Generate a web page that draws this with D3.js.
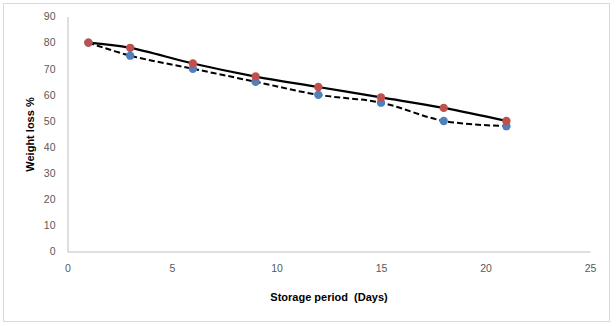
<!DOCTYPE html>
<html><head><meta charset="utf-8">
<script src="https://cdn.jsdelivr.net/npm/d3@7"></script>
<style>body{margin:0;background:#fff}svg{display:block}</style>
</head><body>
<script>
const days = [1, 3, 6, 9, 12, 15, 18, 21];
const seriesSolid = [80, 78, 72, 67, 63, 59, 55, 50];
const seriesDashed = [80, 75, 70, 65, 60, 57, 50, 48];
const xTicks = [0, 5, 10, 15, 20, 25];
const yTicks = [0, 10, 20, 30, 40, 50, 60, 70, 80, 90];

const W = 616, H = 326;
const svg = d3.select("body").append("svg").attr("width", W).attr("height", H);
svg.append("rect").attr("x", 3.5).attr("y", 3.5).attr("width", 606).attr("height", 318)
  .attr("fill", "#fff").attr("stroke", "#d9d9d9").attr("stroke-width", 1);

const x = d3.scaleLinear().domain([0, 25]).range([67.5, 590]);
const y = d3.scaleLinear().domain([0, 90]).range([251.5, 16.5]);
const font = "Liberation Sans, Arial, sans-serif";

const xa = svg.append("g").attr("transform", "translate(0,251.5)")
  .call(d3.axisBottom(x).tickValues(xTicks).tickSize(0).tickPadding(13));
const ya = svg.append("g").attr("transform", "translate(67.5,0)")
  .call(d3.axisLeft(y).tickValues(yTicks).tickSize(0).tickPadding(12));
[xa, ya].forEach(a => {
  a.select(".domain").attr("stroke", "#bfbfbf").attr("stroke-width", 1);
  a.selectAll("text").attr("fill", "#595959").attr("font-size", 10.5).attr("font-family", font);
});

const line = d3.line().x((d, i) => x(days[i])).y(d => y(d)).curve(d3.curveCatmullRom.alpha(0.5));

svg.append("path").datum(seriesDashed).attr("d", line).attr("fill", "none")
  .attr("stroke", "#000").attr("stroke-width", 2).attr("stroke-dasharray", "6,3");
svg.append("path").datum(seriesSolid).attr("d", line).attr("fill", "none")
  .attr("stroke", "#000").attr("stroke-width", 2.2);

svg.append("g").selectAll("circle").data(seriesDashed).join("circle")
  .attr("cx", (d, i) => x(days[i])).attr("cy", d => y(d)).attr("r", 4.2).attr("fill", "#4f81bd");
svg.append("g").selectAll("circle").data(seriesSolid).join("circle")
  .attr("cx", (d, i) => x(days[i])).attr("cy", d => y(d)).attr("r", 4.2).attr("fill", "#c0504d");

svg.append("text").attr("x", 329).attr("y", 301).attr("text-anchor", "middle")
  .attr("font-family", font).attr("font-size", 11).attr("font-weight", "bold")
  .attr("xml:space", "preserve").style("white-space", "pre").text("Storage period  (Days)");
svg.append("text").attr("transform", "translate(34,134.5) rotate(-90)").attr("text-anchor", "middle")
  .attr("font-family", font).attr("font-size", 11).attr("font-weight", "bold")
  .text("Weight loss %");
</script>
</body></html>
